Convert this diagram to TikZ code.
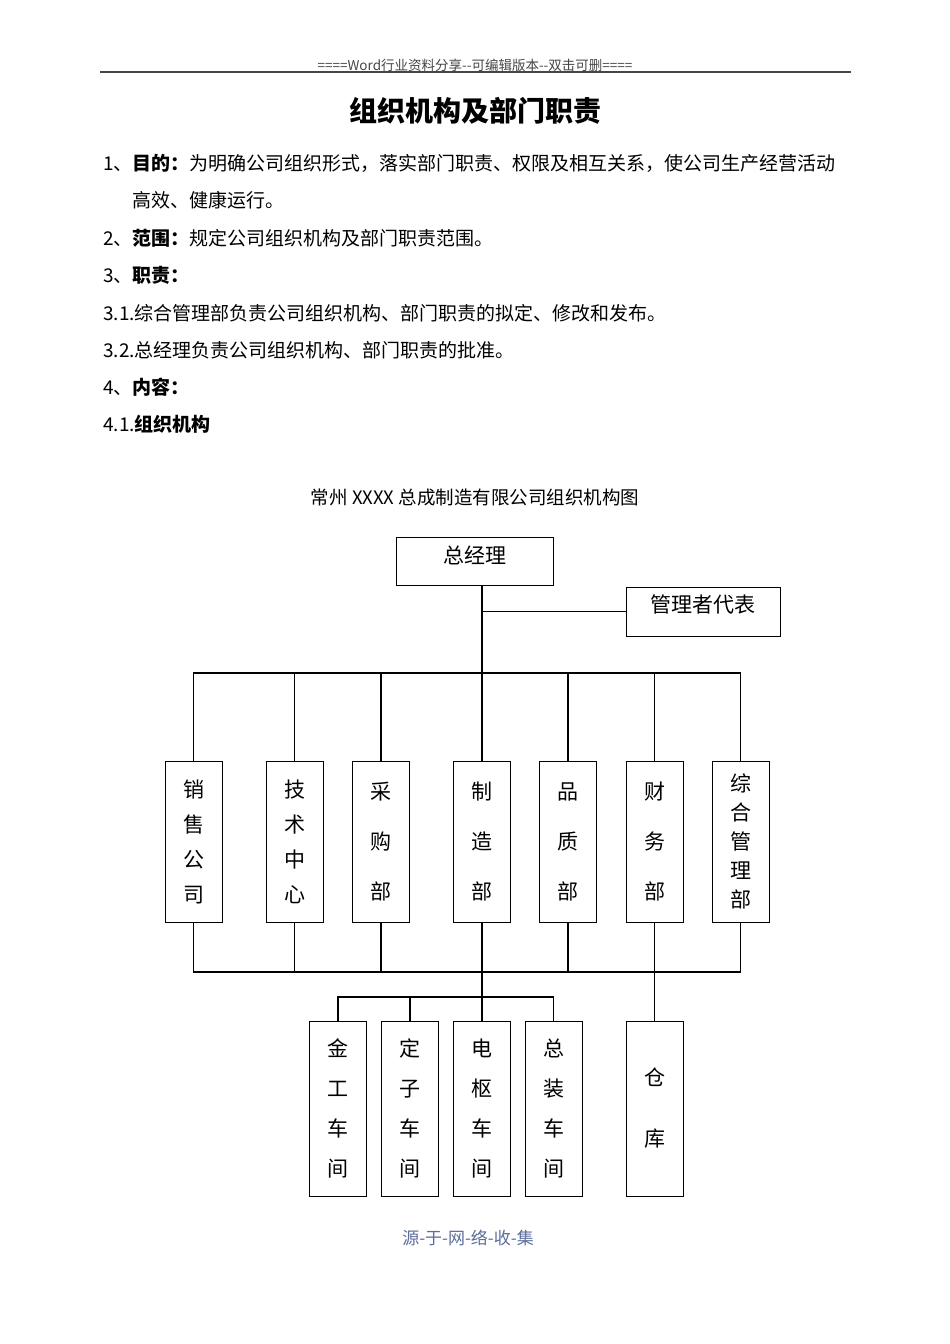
\documentclass[tikz,border=0pt]{standalone}
\usepackage{fontspec}
\setmainfont{Noto Sans CJK SC}
\usetikzlibrary{positioning}
\definecolor{footblue}{RGB}{92,108,156}
\definecolor{headgray}{RGB}{70,70,70}
\newcommand{\bodysize}{\fontsize{19}{23}\selectfont}
\newcommand{\lift}[2]{\raisebox{#1}[\height][\depth]{#2}}

\begin{document}
\begin{tikzpicture}[
  x=1pt,y=-1pt,
  font=\bodysize,
  row/.style={anchor=west,inner sep=0pt},
  wire/.style={line width=1.1pt},
  top/.style={draw,line width=0.9pt,inner sep=0pt,font=\fontsize{21}{25}\selectfont},
  unit/.style={draw,line width=0.9pt,minimum width=57,inner sep=0pt,align=center}
]
  \useasboundingbox[fill=white] (0,0) rectangle (950,1344);

  % page header and heading
  \node[inner sep=0pt,font=\fontsize{13.5}{15}\selectfont,text=headgray] (head) at (475,65)
    {====Word行业资料分享-{}-可编辑版本-{}-双击可删====};
  \draw[line width=2pt,headgray] (100,72) -- (851,72);
  \node[inner sep=0pt,font=\fontsize{28}{32}\selectfont\bfseries] (title) at (475,111) {组织机构及部门职责};

  % body text
  \node[row] (l1) at (103,163) {1、\textbf{目的：}为明确公司组织形式，落实部门职责、权限及相互关系，使公司生产经营活动};
  \node[row] (l1b) at (132,200) {高效、健康运行。};
  \node[row] (l2) at (103,238) {2、\textbf{范围：}规定公司组织机构及部门职责范围。};
  \node[row] (l3) at (103,275) {3、\textbf{职责：}};
  \node[row] (l31) at (103,313) {3.1.综合管理部负责公司组织机构、部门职责的拟定、修改和发布。};
  \node[row] (l32) at (103,350) {3.2.总经理负责公司组织机构、部门职责的批准。};
  \node[row] (l4) at (103,387) {4、\textbf{内容：}};
  \node[row] (l41) at (103,424) {4.1.\textbf{组织机构}};

  % chart
  \node[inner sep=0pt,font=\fontsize{18.5}{21}\selectfont] (charttitle) at (475,498)
    {常州 XXXX 总成制造有限公司组织机构图};

  \node[top,minimum width=157,minimum height=48] (gm) at (474.5,561) {\lift{6pt}{总经理}};
  \node[top,minimum width=154,minimum height=49] (mr) at (703,611.5) {\lift{7pt}{管理者代表}};

  \node[unit,minimum height=161,font=\fontsize{21}{35}\selectfont] (sales) at (193.5,841.5) {销\\售\\公\\司};
  \node[unit,minimum height=161,font=\fontsize{21}{35}\selectfont] (tech) at (294.5,841.5) {技\\术\\中\\心};
  \node[unit,minimum height=161,font=\fontsize{21}{50}\selectfont] (purch) at (381,841.5) {采\\购\\部};
  \node[unit,minimum height=161,font=\fontsize{21}{50}\selectfont] (mfg) at (482,841.5) {制\\造\\部};
  \node[unit,minimum height=161,font=\fontsize{21}{50}\selectfont] (qual) at (568,841.5) {品\\质\\部};
  \node[unit,minimum height=161,font=\fontsize{21}{50}\selectfont] (fin) at (654.5,841.5) {财\\务\\部};
  \node[unit,minimum height=161,font=\fontsize{21}{29}\selectfont] (admin) at (740.5,841.5) {综\\合\\管\\理\\部};

  \node[unit,minimum height=175,font=\fontsize{21}{40}\selectfont] (metal) at (338,1108.5) {金\\工\\车\\间};
  \node[unit,minimum height=175,font=\fontsize{21}{40}\selectfont] (stator) at (410,1108.5) {定\\子\\车\\间};
  \node[unit,minimum height=175,font=\fontsize{21}{40}\selectfont] (armature) at (482,1108.5) {电\\枢\\车\\间};
  \node[unit,minimum height=175,font=\fontsize{21}{40}\selectfont] (assembly) at (553.5,1108.5) {总\\装\\车\\间};
  \node[unit,minimum height=175,font=\fontsize{21}{61}\selectfont] (store) at (654.5,1108.5) {仓\\库};

  \coordinate (topbus) at (482,673);
  \coordinate (botbus) at (482,972);
  \coordinate (subbus) at (482,997);

  \draw[wire] (gm.south -| mfg.north) -- (topbus);
  \draw[wire] (mr.west) -- (mr.west -| mfg.north);

  \draw[wire] (topbus) -| (sales.north);
  \draw[wire] (topbus) -| (tech.north);
  \draw[wire] (topbus) -| (purch.north);
  \draw[wire] (topbus) -- (mfg.north);
  \draw[wire] (topbus) -| (qual.north);
  \draw[wire] (topbus) -| (fin.north);
  \draw[wire] (topbus) -| (admin.north);

  \draw[wire] (sales.south) |- (botbus);
  \draw[wire] (tech.south) |- (botbus);
  \draw[wire] (purch.south) |- (botbus);
  \draw[wire] (qual.south) |- (botbus);
  \draw[wire] (admin.south) |- (botbus);
  \draw[wire] (mfg.south) -- (armature.north);
  \draw[wire] (fin.south) -- (store.north);

  \draw[wire] (subbus) -| (metal.north);
  \draw[wire] (subbus) -| (stator.north);
  \draw[wire] (subbus) -| (assembly.north);

  % footer
  \node[inner sep=0pt,font=\fontsize{17}{20}\selectfont,text=footblue] (foot) at (468,1238) {源-于-网-络-收-集};
\end{tikzpicture}
\end{document}
